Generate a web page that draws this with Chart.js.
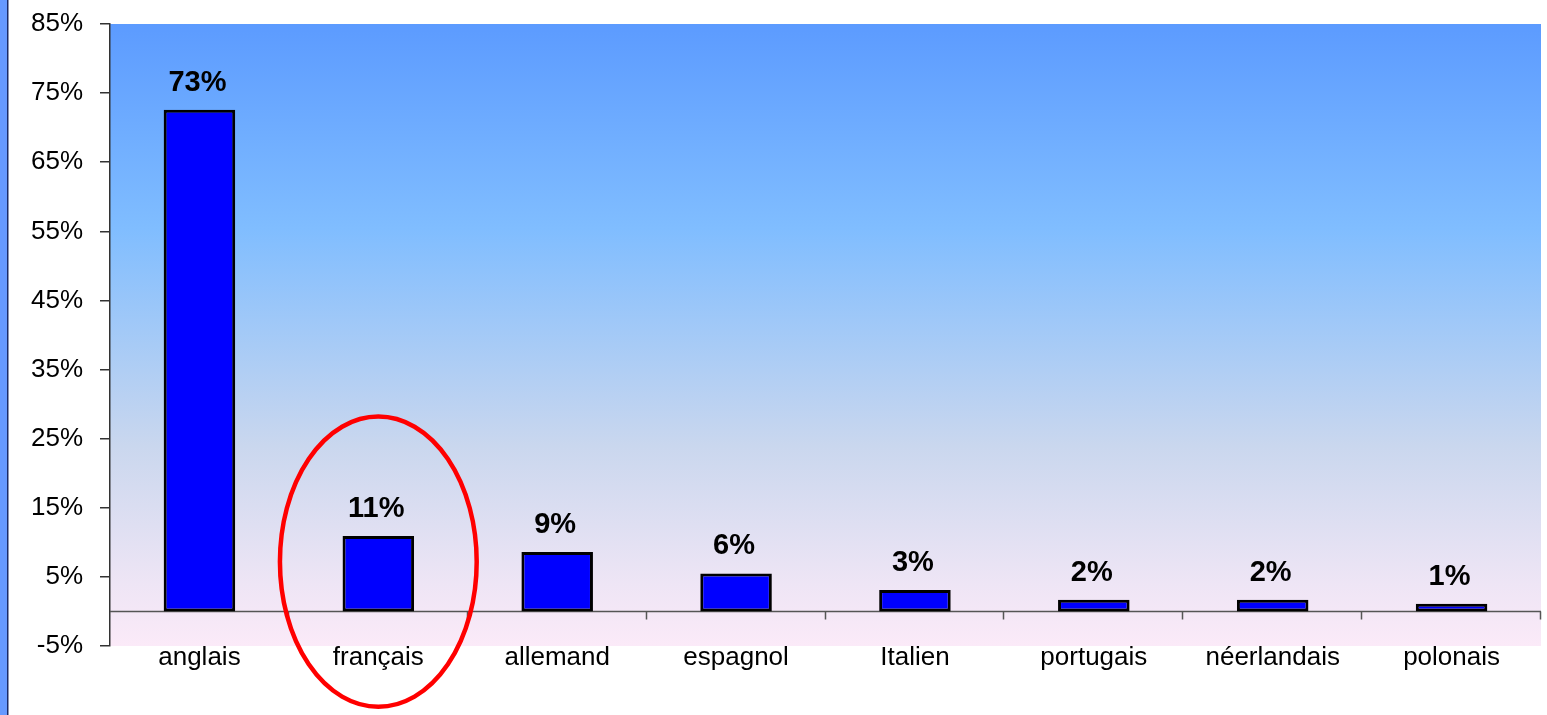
<!DOCTYPE html>
<html>
<head>
<meta charset="utf-8">
<script src="https://cdn.jsdelivr.net/npm/chart.js@4/dist/chart.umd.min.js"></script>
<style>
  html, body { margin: 0; padding: 0; background: #ffffff; }
  #wrap { position: relative; width: 1547px; height: 715px; }
</style>
</head>
<body>
<div id="wrap"><canvas id="c" width="1547" height="715"></canvas></div>
<script>
const categories = ['anglais', 'français', 'allemand', 'espagnol', 'Italien', 'portugais', 'néerlandais', 'polonais'];
const shares = [72.6, 10.9, 8.6, 5.5, 3.1, 1.7, 1.7, 1.1];
const yTicks = [-5, 5, 15, 25, 35, 45, 55, 65, 75, 85];
const highlightIndex = 1;

const FONT = '"Liberation Sans", Arial, sans-serif';

const decor = {
  id: 'decor',
  beforeDraw(chart) {
    const { ctx, chartArea: a } = chart;
    ctx.save();
    ctx.fillStyle = '#6699ff';
    ctx.fillRect(0, 0, 7, chart.height);
    ctx.fillStyle = '#1b2a66';
    ctx.fillRect(7, 0, 1.5, chart.height);
    const g = ctx.createLinearGradient(0, a.top, 0, a.bottom);
    g.addColorStop(0, '#5c9bff');
    g.addColorStop(0.33, '#80bdff');
    g.addColorStop(0.68, '#cad7ee');
    g.addColorStop(0.9, '#eee5f5');
    g.addColorStop(1, '#fbeaf8');
    ctx.fillStyle = g;
    ctx.fillRect(a.left, a.top, a.right - a.left, a.bottom - a.top);
    ctx.restore();
  },
  beforeDatasetsDraw(chart) {
    const { ctx, chartArea: a, scales } = chart;
    const y0 = Math.round(scales.y.getPixelForValue(0)) + 0.5;
    ctx.save();
    ctx.strokeStyle = '#555555';
    ctx.lineWidth = 1.5;
    ctx.beginPath();
    ctx.moveTo(a.left, y0);
    ctx.lineTo(a.right, y0);
    const n = categories.length;
    const w = (a.right - a.left) / n;
    for (let i = 1; i <= n; i++) {
      const x = Math.round(a.left + i * w) - 0.5;
      ctx.moveTo(x, y0);
      ctx.lineTo(x, y0 + 8);
    }
    ctx.stroke();
    ctx.restore();
  },
  afterDatasetsDraw(chart) {
    const { ctx, scales } = chart;
    const meta = chart.getDatasetMeta(0);
    ctx.save();
    ctx.fillStyle = '#000000';
    ctx.font = 'bold 29px ' + FONT;
    ctx.textAlign = 'center';
    ctx.textBaseline = 'alphabetic';
    meta.data.forEach((bar, i) => {
      ctx.fillText(Math.round(shares[i]) + '%', bar.x - 2, bar.y - 19);
    });
    const n = categories.length;
    const w = (chart.chartArea.right - chart.chartArea.left) / n;
    const cx = scales.x.getPixelForValue(highlightIndex);
    const cy = scales.y.getPixelForValue(7.2);
    const ry = scales.y.getPixelForValue(0) - scales.y.getPixelForValue(21);
    ctx.strokeStyle = '#ff0000';
    ctx.lineWidth = 4.5;
    ctx.beginPath();
    ctx.ellipse(cx, cy, w * 0.55, ry, 0, 0, Math.PI * 2);
    ctx.stroke();
    ctx.restore();
  }
};

new Chart(document.getElementById('c'), {
  type: 'bar',
  data: {
    labels: categories,
    datasets: [{
      data: shares,
      backgroundColor: '#0000ff',
      borderColor: '#000000',
      borderWidth: 3,
      borderSkipped: false,
      barPercentage: 0.4,
      categoryPercentage: 1.0
    }]
  },
  options: {
    responsive: false,
    animation: false,
    devicePixelRatio: 1,
    layout: { padding: { top: 24, right: 6, left: 0, bottom: 0 } },
    plugins: { legend: { display: false }, tooltip: { enabled: false } },
    scales: {
      x: {
        grid: { display: false, drawTicks: false },
        border: { display: false },
        ticks: { color: '#000000', font: { family: FONT, size: 26 }, padding: -4, maxRotation: 0 },
        afterFit(s) { s.height = 69; s.paddingLeft = 0; s.paddingRight = 0; }
      },
      y: {
        min: -5,
        max: 85,
        afterBuildTicks(s) { s.ticks = yTicks.map(v => ({ value: v })); },
        grid: { drawOnChartArea: false, drawTicks: true, tickLength: 10, color: '#333333', lineWidth: 1.5 },
        border: { display: true, color: '#333333', width: 1.5 },
        ticks: {
          color: '#000000',
          font: { family: FONT, size: 26 },
          padding: 17,
          callback: v => v + '%'
        },
        afterFit(s) { s.width = 110; s.paddingTop = 0; s.paddingBottom = 0; }
      }
    }
  },
  plugins: [decor]
});
</script>
</body>
</html>
